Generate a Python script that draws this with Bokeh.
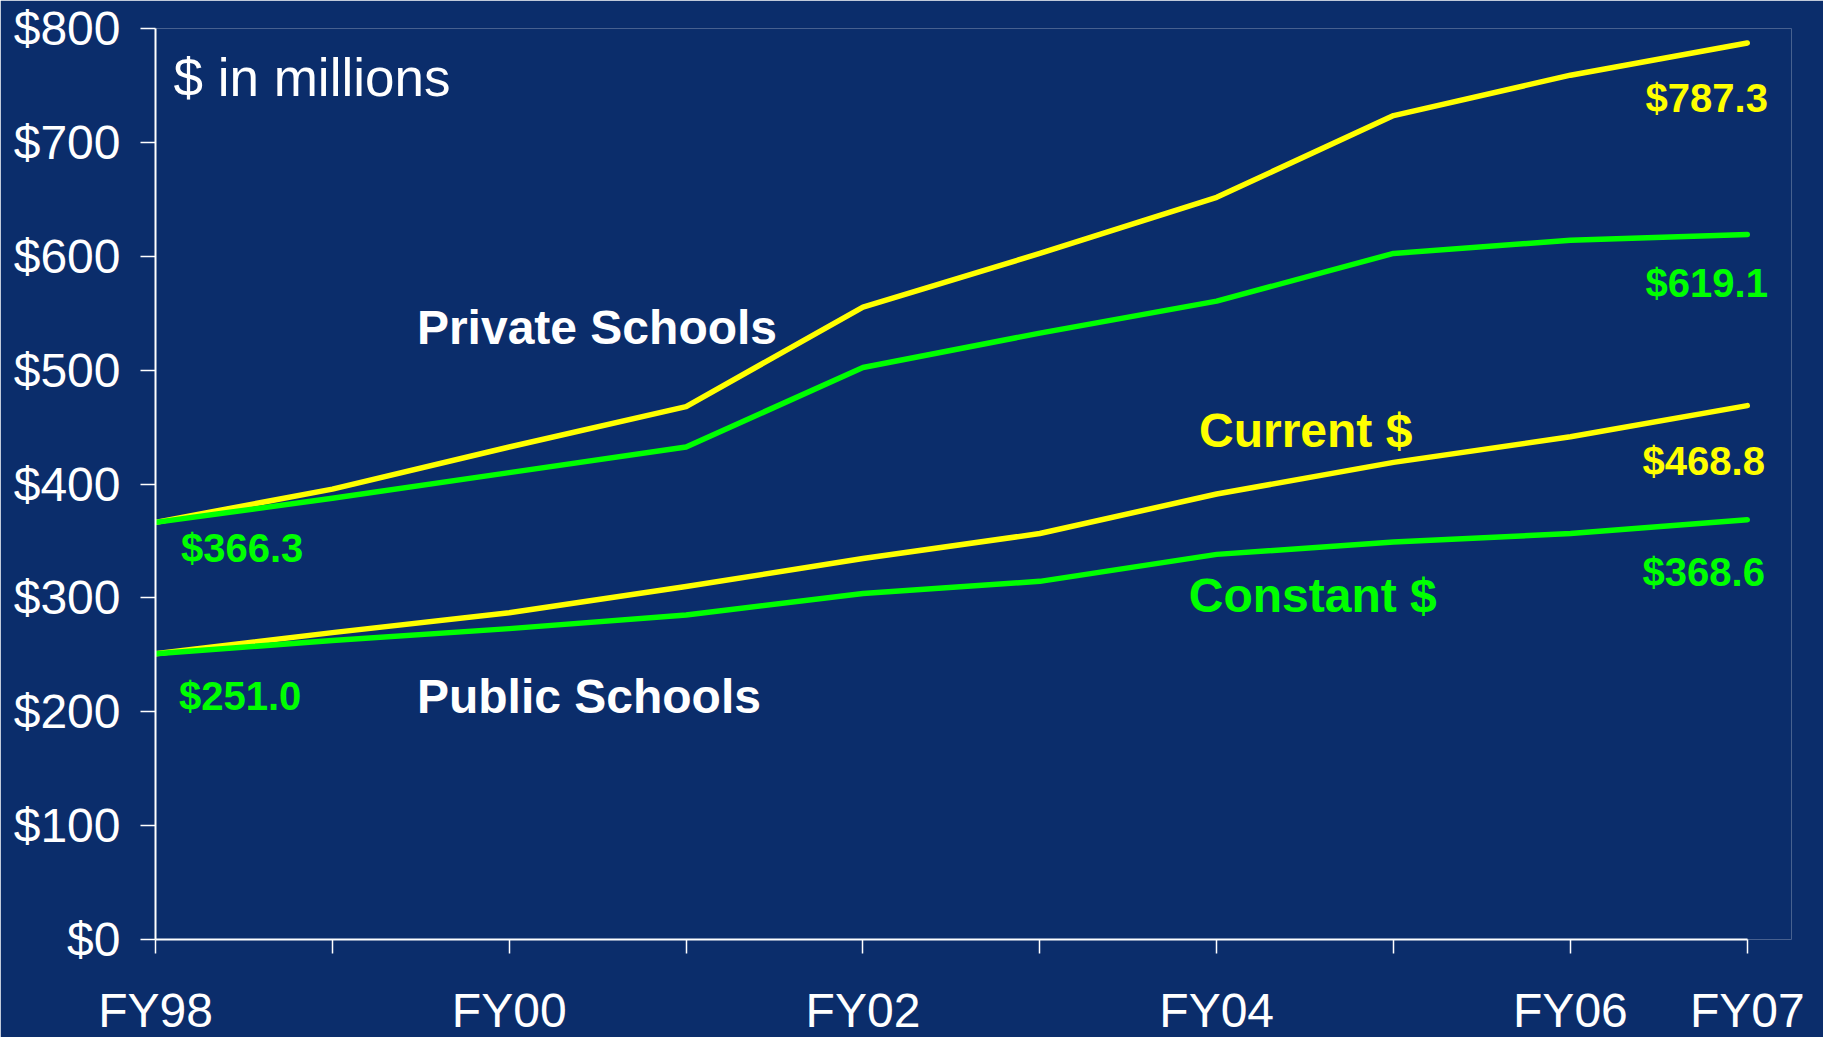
from bokeh.plotting import figure
from bokeh.models import Range1d, FixedTicker, Label
from bokeh.embed import file_html
from bokeh.resources import INLINE

# ---- data ----
years = ["FY98", "FY99", "FY00", "FY01", "FY02", "FY03", "FY04", "FY05", "FY06", "FY07"]
shown_year_labels = ["FY98", "", "FY00", "", "FY02", "", "FY04", "", "FY06", "FY07"]
private_current = [366.3, 395.5, 432.5, 468.0, 555.4, 602.5, 651.8, 723.5, 759.0, 787.3]
private_constant = [366.3, 387.5, 410.0, 432.5, 502.3, 532.5, 560.6, 602.5, 614.0, 619.1]
public_current = [251.0, 269.5, 287.0, 310.0, 334.5, 356.5, 391.2, 419.0, 441.5, 468.8]
public_constant = [251.0, 262.5, 273.0, 285.0, 303.8, 314.5, 338.2, 349.0, 356.5, 368.6]
y_ticks = [0, 100, 200, 300, 400, 500, 600, 700, 800]
y_tick_labels = ["$0", "$100", "$200", "$300", "$400", "$500", "$600", "$700", "$800"]

BG = "#0B2D6B"
YELLOW = "#FFFF00"
GREEN = "#00FF00"
WHITE = "#FFFFFF"
FONT = "Liberation Sans"

xs = list(range(len(years)))
X_END = len(years) - 1 + 0.25   # room on the right for the end-value labels

FRAME_W = int(round(176.9 * X_END))
p = figure(width=1823, height=1037,
           x_range=Range1d(0, X_END), y_range=Range1d(0, 800),
           output_backend="svg", toolbar_location=None,
           frame_width=FRAME_W, frame_height=911,
           min_border_left=155, min_border_right=1823 - 155 - FRAME_W,
           min_border_top=28, min_border_bottom=98)

p.background_fill_color = BG
p.border_fill_color = BG
p.outline_line_color = None
p.grid.visible = False

# lines: yellow (current $) first, green (constant $) on top
for series, col in ((private_current, YELLOW), (public_current, YELLOW),
                    (private_constant, GREEN), (public_constant, GREEN)):
    p.line(xs, series, line_color=col, line_width=5.5,
           line_join="round", line_cap="round")

# axes
for ax in (p.xaxis[0], p.yaxis[0]):
    ax.axis_line_color = WHITE
    ax.axis_line_width = 2
    ax.major_tick_line_color = WHITE
    ax.major_tick_line_width = 1.5
    ax.major_tick_in = 0
    ax.minor_tick_line_color = None
    ax.major_label_text_color = WHITE
    ax.major_label_text_font = FONT
    ax.major_label_text_font_size = "48px"

p.xaxis[0].bounds = (0, len(years) - 1)
p.xaxis[0].ticker = FixedTicker(ticks=xs)
p.xaxis[0].major_label_overrides = {i: lab for i, lab in zip(xs, shown_year_labels)}
p.xaxis[0].major_tick_out = 14
p.xaxis[0].major_label_standoff = 30

p.yaxis[0].ticker = FixedTicker(ticks=y_ticks)
p.yaxis[0].major_label_overrides = {t: lab for t, lab in zip(y_ticks, y_tick_labels)}
p.yaxis[0].major_tick_out = 15
p.yaxis[0].major_label_standoff = 20

# ---- annotations ----
def add_text(x, y, txt, color, size, bold=True):
    p.add_layout(Label(x=x, y=y, x_units="data", y_units="data", text=txt,
                       text_color=color, text_font=FONT, text_font_size=size,
                       text_font_style="bold" if bold else "normal",
                       text_align="left", text_baseline="middle"))

add_text(0.102, 757.2, "$ in millions", WHITE, "53px", bold=False)
add_text(1.478, 537.8, "Private Schools", WHITE, "48px")
add_text(1.478, 213.5, "Public Schools", WHITE, "48px")
add_text(5.90, 447.1, "Current $", YELLOW, "48px")
add_text(5.842, 301.7, "Constant $", GREEN, "48px")

add_text(0.144, 343.9, "$%.1f" % private_constant[0], GREEN, "40px")
add_text(0.133, 213.5, "$%.1f" % public_constant[0], GREEN, "40px")
add_text(8.425, 738.7, "$%.1f" % private_current[-1], YELLOW, "40px")
add_text(8.425, 576.7, "$%.1f" % private_constant[-1], GREEN, "40px")
add_text(8.408, 419.9, "$%.1f" % public_current[-1], YELLOW, "40px")
add_text(8.408, 322.8, "$%.1f" % public_constant[-1], GREEN, "40px")

open("out.html", "w").write(file_html(p, INLINE))
